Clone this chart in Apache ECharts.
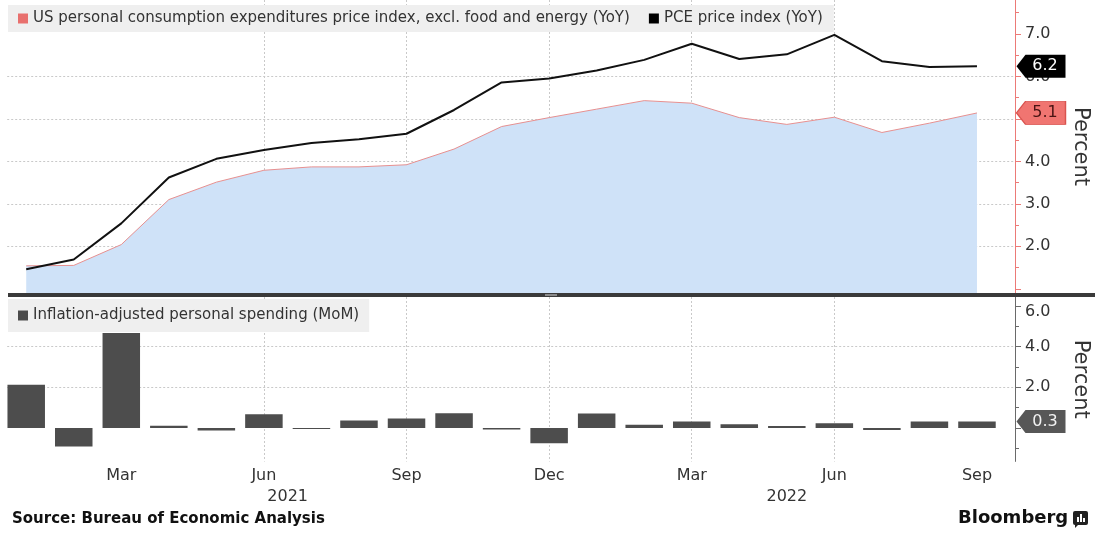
<!DOCTYPE html>
<html><head><meta charset="utf-8">
<script src="https://cdn.jsdelivr.net/npm/echarts@6/dist/echarts.min.js"></script>
<style>html,body{margin:0;padding:0;background:#fff}#c{width:1095px;height:533px}</style>
</head><body><div id="c"></div>
<script>
// ---- data ----
const months = ['Jan','Feb','Mar','Apr','May','Jun','Jul','Aug','Sep','Oct','Nov','Dec',
                'Jan','Feb','Mar','Apr','May','Jun','Jul','Aug','Sep'];
const coreYoY = [1.54,1.55,2.04,3.10,3.51,3.79,3.87,3.87,3.92,4.29,4.82,5.03,
                 5.23,5.43,5.37,5.03,4.87,5.04,4.68,4.90,5.14];
const pceYoY  = [1.46,1.69,2.54,3.62,4.06,4.27,4.43,4.52,4.65,5.21,5.86,5.95,
                 6.14,6.39,6.77,6.41,6.52,6.98,6.36,6.22,6.24];
const spendMoM = [2.13,-0.92,4.68,0.11,-0.13,0.67,-0.05,0.36,0.46,0.72,-0.08,-0.75,
                  0.71,0.15,0.31,0.18,0.10,0.23,-0.10,0.31,0.31];
const monthTickIdx = [2,5,8,11,14,17,20];        // Mar Jun Sep Dec Mar Jun Sep
const yearLabels = [{pos:5.5, text:'2021'}, {pos:16, text:'2022'}];
const topTicks = [1,2,3,4,5,6,7];
const topLabels = [2,3,4,5,6,7];
const topMinor = [1.5,2.5,3.5,4.5,5.5,6.5,7.5];
const botTicks = [0,2,4,6];
const botMinor = [-1,1,3,5];
const NAME_CORE = 'US personal consumption expenditures price index, excl. food and energy (YoY)';
const NAME_PCE = 'PCE price index (YoY)';
const NAME_SPEND = 'Inflation-adjusted personal spending (MoM)';

// ---- layout ----
const FONT = 'DejaVu Sans';
const X_MIN = -0.4, X_MAX = 20.8;
const TOP_MIN = 0.9, TOP_MAX = 7.8, BOT_MIN = -1.65, BOT_MAX = 6.45;
const GL = 7.2, GR = 80;
const TOP_GRID = {left:GL, right:GR, top:0, height:293, outerBoundsMode:'none', containLabel:false};
const BOT_GRID = {left:GL, right:GR, top:297, height:164.4, outerBoundsMode:'none', containLabel:false};
const RED = '#ec7a77', DARK = '#6a6a6a';
const TAG_PATH = 'path://M0,11.5L9,0L49,0L49,23L9,23Z';
const gridLine = {show:true, showMinLine:false, showMaxLine:false, lineStyle:{color:'#c9c9c9', type:[2,2], width:1}};
const noLine = {show:false, onZero:false};

function tag(last, fill, textColor, border){
  return {
    symbol: TAG_PATH, symbolSize:[49,23], symbolOffset:[26,0], silent:true,
    itemStyle:{color:fill, borderColor:border||fill, borderWidth:border?1:0},
    label:{show:true, position:'inside', offset:[4,0], color:textColor, fontSize:16, fontFamily:FONT,
           formatter:p=>Number(p.value).toFixed(1)},
    data:[{coord:[X_MAX, last], value:last}]
  };
}
function hiddenX(gi){
  return {type:'value', gridIndex:gi, min:X_MIN, max:X_MAX, axisLine:noLine, axisTick:{show:false},
          axisLabel:{show:false}, splitLine:{show:false}};
}
function minorY(gi, mn, mx, vals, color){
  return {type:'value', gridIndex:gi, position:'right', min:mn, max:mx, axisLine:noLine,
          axisTick:{show:true, length:4, customValues:vals, lineStyle:{color:color}},
          axisLabel:{show:false}, splitLine:{show:false}};
}

const chart = echarts.init(document.getElementById('c'), null, {renderer:'canvas'});
chart.setOption({
  animation:false,
  backgroundColor:'#fff',
  textStyle:{fontFamily:FONT},
  grid:[TOP_GRID, BOT_GRID, Object.assign({}, TOP_GRID), Object.assign({}, BOT_GRID)],
  legend:[
    {data:[{name:NAME_CORE, itemStyle:{color:'#e8706e', borderWidth:0}},
           {name:NAME_PCE, itemStyle:{color:'#000', borderWidth:0}}],
     left:8, top:5, padding:[6,11,6,10], itemGap:19, itemWidth:10, itemHeight:10, icon:'rect',
     backgroundColor:'#efefef', selectedMode:false,
     textStyle:{fontSize:15, color:'#333', fontFamily:FONT}},
    {data:[{name:NAME_SPEND, itemStyle:{color:'#4a4a4a', borderWidth:0}}],
     left:8, top:299, padding:[9,10,9,10], itemWidth:10, itemHeight:10, icon:'rect',
     backgroundColor:'#efefef', selectedMode:false,
     textStyle:{fontSize:15, color:'#333', fontFamily:FONT}}
  ],
  xAxis:[
    {type:'value', gridIndex:0, min:X_MIN, max:X_MAX, axisLine:noLine,
     axisTick:{show:false, customValues:monthTickIdx}, axisLabel:{show:false}, splitLine:gridLine},
    {type:'value', gridIndex:1, min:X_MIN, max:X_MAX, axisLine:noLine,
     axisTick:{show:false, customValues:monthTickIdx},
     axisLabel:{show:true, customValues:monthTickIdx, margin:6, fontSize:16, color:'#333', fontFamily:FONT,
                formatter:v=>months[Math.round(v)]},
     splitLine:gridLine},
    hiddenX(2),
    {type:'value', gridIndex:3, min:X_MIN, max:X_MAX, axisLine:noLine,
     axisTick:{show:false, customValues:yearLabels.map(d=>d.pos)},
     axisLabel:{show:true, customValues:yearLabels.map(d=>d.pos), margin:27, fontSize:16, color:'#333', fontFamily:FONT,
                formatter:v=>{const f=yearLabels.find(d=>Math.abs(d.pos-v)<1e-6); return f?f.text:'';}},
     splitLine:{show:false}}
  ],
  yAxis:[
    {type:'value', gridIndex:0, position:'right', min:TOP_MIN, max:TOP_MAX,
     axisLine:{show:true, onZero:false, lineStyle:{color:RED, width:1}},
     axisTick:{show:true, length:6, customValues:topTicks, lineStyle:{color:RED}},
     axisLabel:{customValues:topLabels, margin:10, fontSize:16, color:'#333', fontFamily:FONT, formatter:v=>v.toFixed(1)},
     splitLine:gridLine,
     name:'Percent', nameLocation:'middle', nameRotate:-90, nameGap:55,
     nameTextStyle:{fontSize:21, color:'#333', fontFamily:FONT}},
    {type:'value', gridIndex:1, position:'right', min:BOT_MIN, max:BOT_MAX,
     axisLine:{show:true, onZero:false, lineStyle:{color:DARK, width:1}},
     axisTick:{show:true, length:6, customValues:botTicks, lineStyle:{color:DARK}},
     axisLabel:{customValues:botTicks, margin:10, fontSize:16, color:'#333', fontFamily:FONT,
                formatter:v=>v===6 ? '{t|'+v.toFixed(1)+'}' : v.toFixed(1),
                rich:{t:{fontSize:16, color:'#333', fontFamily:FONT, padding:[12,0,0,0]}}},
     splitLine:gridLine,
     name:'Percent', nameLocation:'middle', nameRotate:-90, nameGap:55,
     nameTextStyle:{fontSize:21, color:'#333', fontFamily:FONT}},
    minorY(2, TOP_MIN, TOP_MAX, topMinor, RED),
    minorY(3, BOT_MIN, BOT_MAX, botMinor, DARK)
  ],
  series:[
    {name:NAME_CORE, type:'line', xAxisIndex:0, yAxisIndex:0, z:2,
     data:coreYoY.map((v,i)=>[i,v]), symbol:'none',
     lineStyle:{color:'#e79090', width:1}, itemStyle:{color:'#e8706e'},
     areaStyle:{color:'#cfe2f8', opacity:1, origin:'start'},
     markPoint:tag(coreYoY[coreYoY.length-1], '#f07571', '#4a1414', '#d9534f')},
    {name:NAME_PCE, type:'line', xAxisIndex:0, yAxisIndex:0, z:3,
     data:pceYoY.map((v,i)=>[i,v]), symbol:'none',
     lineStyle:{color:'#111', width:2}, itemStyle:{color:'#000'},
     markPoint:tag(pceYoY[pceYoY.length-1], '#000', '#fff')},
    {name:NAME_SPEND, type:'bar', xAxisIndex:1, yAxisIndex:1, z:2,
     data:spendMoM.map((v,i)=>[i,v]), barWidth:37.5,
     itemStyle:{color:'#4d4d4d'},
     markPoint:tag(spendMoM[spendMoM.length-1], '#575757', '#f2f2f2')}
  ],
  graphic:[
    {type:'rect', shape:{x:8, y:293, width:1087, height:4}, style:{fill:'#3a3a3a'}, z:50},
    {type:'rect', shape:{x:545, y:294, width:12, height:2}, style:{fill:'#8a8a8a'}, z:51},
    {type:'text', left:12, top:512, style:{text:'Source: Bureau of Economic Analysis', font:'bold 15px "DejaVu Sans"', fill:'#111'}},
    {type:'text', left:958, top:509, style:{text:'Bloomberg', font:'bold 18px "DejaVu Sans"', fill:'#111'}},
    {type:'group', left:1073, top:511, children:[
      {type:'rect', shape:{x:0, y:0, width:15, height:14, r:2}, style:{fill:'#222'}},
      {type:'polygon', shape:{points:[[2,13],[6,13],[2,17]]}, style:{fill:'#222'}},
      {type:'rect', shape:{x:4, y:6, width:2, height:5}, style:{fill:'#fff'}},
      {type:'rect', shape:{x:7, y:3, width:2, height:8}, style:{fill:'#fff'}},
      {type:'rect', shape:{x:10, y:7, width:2, height:4}, style:{fill:'#fff'}}
    ]}
  ]
});
</script></body></html>
